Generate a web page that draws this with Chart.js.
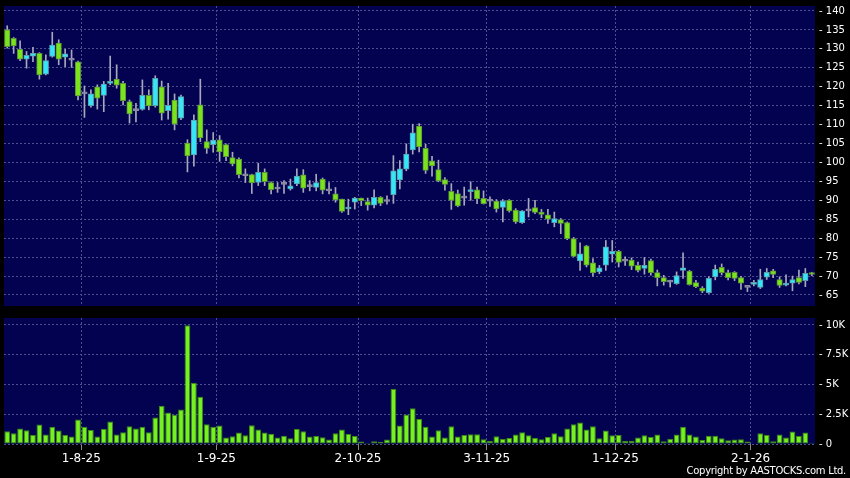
<!DOCTYPE html>
<html>
<head>
<meta charset="utf-8">
<script src="https://cdn.jsdelivr.net/npm/chart.js@4.4.1/dist/chart.umd.min.js"></script>
<style>
  html, body { margin: 0; padding: 0; background: #000; }
  #wrap { position: relative; width: 850px; height: 478px; overflow: hidden; background: #000; }
  #priceChart { position: absolute; left: 0; top: 0; }
  #volChart { position: absolute; left: 0; top: 312px; }
  #copy { position: absolute; right: 4px; top: 465px; font: 10px 'DejaVu Sans', sans-serif; line-height: 12px;
          letter-spacing: -0.3px; color: #fff; white-space: nowrap; }
</style>
</head>
<body>
<div id="wrap">
  <canvas id="priceChart" width="850" height="312"></canvas>
  <canvas id="volChart" width="850" height="166"></canvas>
  <div id="copy">Copyright by AASTOCKS.com Ltd.</div>
</div>
<script>
// daily OHLC, one entry per trading day (16-7-25 .. 15-1-26)
const openP = [
  135.0, 132.8, 129.9, 127.3, 128.1, 128.8, 123.3, 128.0, 131.5, 127.8,
  127.0, 126.6, 118.1, 115.0, 120.0, 117.7, 120.9, 122.0, 120.9, 116.1,
  113.7, 114.0, 117.7, 115.0, 120.0, 113.7, 116.5, 111.7, 105.1, 102.0,
  115.2, 105.5, 104.7, 106.0, 104.7, 101.3, 100.9, 96.5, 96.8, 94.7,
  97.4, 94.7, 93.0, 94.2, 93.0, 94.3, 96.7, 93.6, 93.4, 95.6,
  92.5, 91.7, 90.3, 87.7, 89.5, 90.6, 89.7, 88.7, 90.8, 89.7,
  91.5, 95.4, 98.2, 103.3, 109.6, 103.7, 100.4, 98.1, 95.5, 92.4,
  91.8, 90.6, 92.3, 92.8, 90.5, 89.8, 89.8, 88.1, 90.0, 87.4,
  84.1, 87.2, 88.1, 86.9, 86.2, 84.1, 84.9, 84.1, 79.9, 74.0,
  78.0, 73.5, 71.1, 72.9, 75.8, 76.5, 73.9, 74.2, 72.8, 72.0,
  74.1, 70.9, 69.6, 68.4, 68.0, 71.5, 71.3, 68.3, 66.8, 65.6,
  69.8, 72.3, 70.9, 71.0, 69.6, 67.0, 67.8, 67.0, 69.7, 71.4,
  69.1, 67.6, 68.1, 69.6, 68.8, 70.6
];
const highP = [
  136.1, 133.0, 132.1, 129.3, 130.4, 129.0, 128.4, 134.4, 132.4, 129.9,
  129.7, 126.8, 120.2, 119.2, 120.5, 121.4, 128.1, 125.8, 121.4, 116.5,
  115.6, 121.8, 119.2, 122.9, 121.5, 120.9, 118.1, 117.8, 106.0, 112.6,
  122.0, 108.6, 107.9, 107.1, 104.9, 102.7, 101.2, 98.3, 96.9, 99.8,
  98.3, 94.9, 94.7, 95.2, 95.6, 98.3, 98.1, 95.2, 96.9, 95.9,
  94.7, 93.4, 90.3, 90.3, 90.8, 90.6, 90.6, 92.8, 91.0, 91.2,
  101.8, 100.5, 104.9, 110.1, 110.3, 104.8, 101.6, 100.6, 96.0, 94.4,
  92.7, 93.5, 94.9, 93.5, 92.5, 90.9, 90.2, 90.2, 90.2, 87.8,
  87.3, 90.5, 90.0, 87.6, 87.6, 86.9, 85.2, 84.3, 80.2, 78.8,
  78.1, 74.6, 72.8, 79.4, 79.4, 76.8, 75.1, 74.8, 73.7, 74.9,
  74.5, 71.6, 70.2, 68.9, 71.1, 76.1, 71.5, 68.9, 67.2, 69.8,
  72.9, 73.2, 71.6, 71.2, 69.9, 67.0, 68.9, 71.8, 72.0, 71.8,
  69.8, 70.3, 70.0, 71.6, 72.0, 71.0
];
const lowP = [
  130.2, 128.8, 126.9, 124.9, 126.6, 122.0, 123.1, 127.8, 125.8, 125.3,
  125.1, 116.5, 111.9, 114.6, 114.1, 113.4, 120.5, 119.6, 115.2, 110.4,
  110.7, 113.8, 113.9, 114.6, 111.2, 111.4, 108.6, 111.3, 97.5, 99.0,
  105.5, 102.4, 102.7, 100.3, 100.5, 99.1, 95.9, 94.7, 91.8, 93.9,
  93.9, 91.7, 92.1, 91.8, 92.7, 93.9, 92.1, 92.5, 92.5, 91.7,
  91.7, 89.5, 86.8, 86.2, 87.7, 88.6, 87.4, 88.0, 88.6, 89.0,
  89.2, 93.0, 97.8, 102.2, 102.8, 97.1, 96.4, 94.9, 92.7, 87.6,
  88.3, 88.7, 90.0, 89.1, 89.0, 88.4, 86.9, 84.3, 86.9, 83.9,
  83.9, 85.6, 86.5, 85.4, 83.9, 83.0, 81.2, 79.6, 75.1, 71.5,
  72.4, 70.0, 70.6, 71.5, 73.7, 72.4, 72.8, 71.7, 71.1, 70.5,
  70.2, 67.4, 67.6, 67.1, 67.8, 69.4, 67.6, 66.9, 65.6, 65.4,
  69.0, 70.3, 69.0, 68.8, 66.5, 65.9, 67.4, 66.7, 69.1, 69.6,
  67.0, 67.4, 66.1, 67.9, 67.2, 70.1
];
const closeP = [
  130.6, 130.8, 127.3, 128.3, 128.8, 123.1, 126.9, 131.0, 127.3, 128.7,
  127.0, 117.6, 118.1, 118.1, 117.0, 120.7, 121.4, 120.4, 116.3, 112.8,
  113.7, 117.7, 114.9, 122.2, 113.0, 115.1, 110.1, 117.4, 101.7, 111.2,
  106.5, 103.7, 105.9, 102.8, 101.5, 99.6, 96.8, 96.5, 94.6, 97.4,
  94.9, 92.8, 93.0, 94.2, 93.8, 96.4, 93.2, 93.6, 94.7, 92.7,
  92.5, 90.1, 87.1, 88.1, 90.6, 89.9, 88.7, 90.8, 89.2, 89.7,
  97.8, 98.3, 102.2, 107.8, 104.1, 97.9, 99.1, 95.1, 94.2, 90.0,
  88.5, 90.6, 92.8, 90.4, 89.1, 89.8, 87.7, 89.8, 87.2, 84.3,
  87.2, 87.2, 86.8, 86.3, 85.0, 85.2, 83.9, 79.9, 75.2, 75.9,
  72.9, 70.8, 72.2, 77.7, 76.5, 73.6, 73.9, 72.6, 71.5, 72.8,
  70.9, 69.6, 68.5, 68.4, 70.1, 72.2, 67.7, 67.2, 66.0, 69.4,
  71.8, 70.9, 69.6, 69.4, 68.1, 67.0, 68.3, 69.1, 71.0, 70.4,
  67.5, 68.1, 69.1, 68.3, 70.7, 70.4
];
const volume = [
  1070, 900, 1300, 1150, 760, 1630, 790, 1440, 1130, 760,
  620, 2060, 1440, 1180, 620, 1270, 1890, 790, 990, 1490,
  1300, 1440, 990, 2230, 3210, 2650, 2450, 2900, 9970, 5150,
  3970, 1660, 1440, 1550, 540, 650, 960, 730, 1580, 1210,
  960, 870, 540, 700, 480, 1270, 1070, 620, 680, 560,
  370, 900, 1210, 850, 680, 200, 80, 230, 170, 370,
  4620, 1550, 2480, 3010, 2110, 1440, 620, 1150, 540, 1490,
  620, 760, 820, 820, 390, 250, 650, 420, 510, 790,
  990, 730, 510, 390, 590, 900, 650, 1300, 1660, 1800,
  1210, 1490, 480, 1130, 730, 760, 250, 280, 540, 730,
  590, 790, 230, 450, 790, 1440, 790, 620, 340, 700,
  700, 480, 310, 370, 390, 200, 50, 900, 760, 230,
  790, 540, 1040, 680, 960, 100
];

// first trading day of each month (index into the day arrays) and its label
const monthIdx = [12, 33, 55, 75, 95, 116];
const monthLabels = ['1-8-25', '1-9-25', '2-10-25', '3-11-25', '1-12-25', '2-1-26'];
const priceTicks = [65, 70, 75, 80, 85, 90, 95, 100, 105, 110, 115, 120, 125, 130, 135, 140];
const volTicks = [0, 2500, 5000, 7500, 10000];

const dayIdx = openP.map((_, i) => i);

const UP = '#36e6f6', DOWN = '#7be31c', FLAT = '#8c8ca6';
const gridCol = '#4e4e8e';

Chart.defaults.font.family = "'DejaVu Sans', sans-serif";
Chart.defaults.color = '#ffffff';

// navy plot panel
const panelBg = {
  id: 'panelBg',
  beforeDraw(chart) {
    const { ctx, chartArea: a } = chart;
    ctx.save();
    ctx.fillStyle = '#020250';
    ctx.fillRect(a.left, a.top, a.right - a.left, a.bottom - a.top);
    ctx.restore();
  }
};

function xAxis(withLabels) {
  return {
    type: 'linear',
    offset: false,
    min: -0.5,
    max: dayIdx.length - 0.5,
    afterBuildTicks: ax => { ax.ticks = monthIdx.map(i => ({ value: i - 0.5 })); },
    afterFit: ax => {
      ax.height = withLabels ? 34 : 0;
      ax.paddingLeft = 0; ax.paddingRight = 0;
    },
    grid: { offset: false, color: gridCol, drawTicks: withLabels, tickLength: 6, tickColor: '#8a8a8a' },
    border: { display: false, dash: [2, 2] },
    ticks: {
      display: withLabels,
      autoSkip: false,
      maxRotation: 0,
      padding: 2,
      color: '#ffffff',
      font: { size: 12 },
      callback: (v, k) => monthLabels[k]
    }
  };
}

function yAxis(min, max, tickVals, fmt) {
  return {
    position: 'right',
    min: min,
    max: max,
    afterBuildTicks: ax => { ax.ticks = tickVals.map(v => ({ value: v })); },
    afterFit: ax => {
      ax.width = 35;
      ax.paddingTop = 0; ax.paddingBottom = 0;
    },
    grid: { color: gridCol, drawTicks: false },
    border: { display: false, dash: [2, 2] },
    ticks: { color: '#ffffff', font: { size: 10 }, padding: 4, callback: v => '- ' + fmt(v) }
  };
}

const bodyCol = dayIdx.map(i => closeP[i] > openP[i] ? UP : (closeP[i] < openP[i] ? DOWN : FLAT));
const bodyBorder = dayIdx.map(i => closeP[i] > openP[i] ? '#5b9cab' : (closeP[i] < openP[i] ? '#5a9438' : FLAT));

// 1. Price candlesticks (bodies + wicks as floating bars)
new Chart(document.getElementById('priceChart'), {
  type: 'bar',
  data: {
    datasets: [{
      data: dayIdx.map(i => ({ x: i, y: [openP[i], closeP[i]] })),
      backgroundColor: bodyCol,
      borderColor: bodyBorder,
      borderWidth: 1,
      borderSkipped: false,
      barThickness: 5.5,
      minBarLength: 2,
      grouped: false
    }, {
      data: dayIdx.map(i => ({ x: i, y: [lowP[i], highP[i]] })),
      backgroundColor: '#a8a8bc',
      borderWidth: 0,
      barThickness: 1,
      grouped: false
    }]
  },
  options: {
    responsive: false,
    animation: false,
    devicePixelRatio: 1,
    layout: { padding: { left: 4, top: 6, right: 0, bottom: 6 } },
    plugins: { legend: { display: false }, tooltip: { enabled: false } },
    scales: {
      x: xAxis(false),
      y: yAxis(62.09, 141.32, priceTicks, v => v)
    }
  },
  plugins: [panelBg]
});

// 2. Volume bars
new Chart(document.getElementById('volChart'), {
  type: 'bar',
  data: {
    datasets: [{
      data: dayIdx.map(i => ({ x: i, y: volume[i] })),
      backgroundColor: '#76f01e',
      borderColor: '#3c8a14',
      borderWidth: 1,
      borderSkipped: false,
      barPercentage: 0.9,
      categoryPercentage: 1
    }]
  },
  options: {
    responsive: false,
    animation: false,
    devicePixelRatio: 1,
    layout: { padding: { left: 4, top: 6, right: 0, bottom: 0 } },
    plugins: { legend: { display: false }, tooltip: { enabled: false } },
    scales: {
      x: xAxis(true),
      y: yAxis(0, 10588, volTicks, v => v === 0 ? '0' : (v / 1000) + 'K')
    }
  },
  plugins: [panelBg]
});
</script>
</body>
</html>
